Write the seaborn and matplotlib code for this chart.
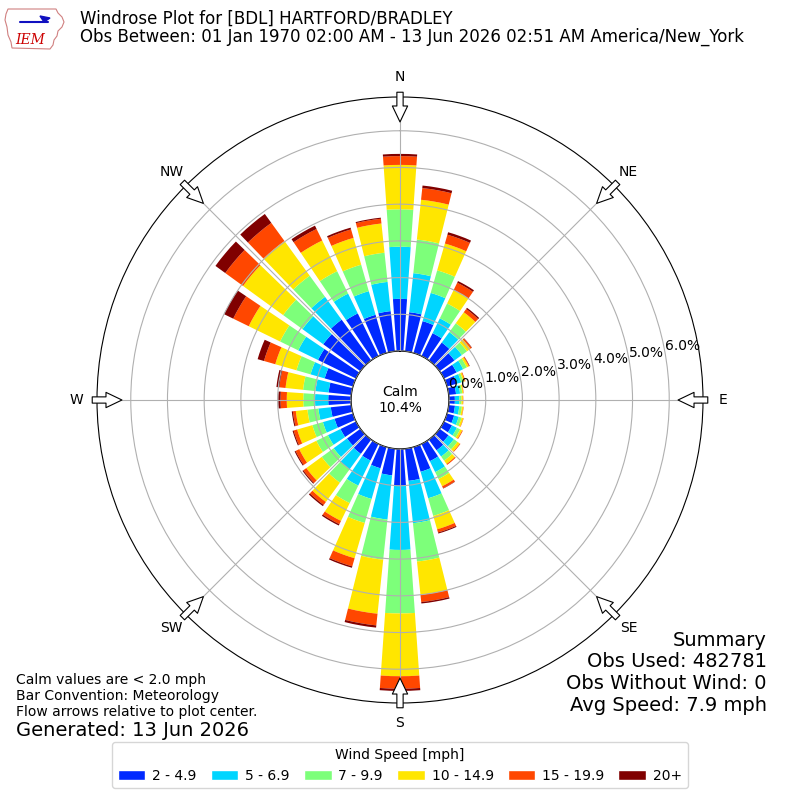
import numpy as np
import matplotlib
matplotlib.use("Agg")
import matplotlib.pyplot as plt
import seaborn as sns
from matplotlib.patches import Patch, Polygon
from matplotlib.lines import Line2D

# wind directions (deg, meteorological) and speed bins
directions = list(range(0, 360, 10))
speed_bins = ["2 - 4.9", "5 - 6.9", "7 - 9.9", "10 - 14.9", "15 - 19.9", "20+"]

# frequency [%] per direction for each speed bin
freq_2_5 = [1.42, 1.07, 0.90, 0.69, 0.60, 0.50, 0.38, 0.27, 0.20, 0.16, 0.17, 0.20,
            0.24, 0.30, 0.36, 0.52, 0.70, 0.88, 1.01, 0.73, 0.60, 0.50, 0.48, 0.45,
            0.47, 0.52, 0.56, 0.62, 0.62, 0.80, 1.15, 1.25, 1.37, 1.29, 1.08, 1.10]
freq_5_7 = [1.42, 1.07, 0.80, 0.45, 0.35, 0.25, 0.20, 0.13, 0.11, 0.12, 0.12, 0.13,
            0.15, 0.18, 0.21, 0.33, 0.75, 1.16, 1.74, 1.21, 0.87, 0.76, 0.52, 0.45,
            0.38, 0.33, 0.34, 0.36, 0.36, 0.40, 0.60, 0.70, 0.77, 0.60, 0.67, 0.80]
freq_7_10 = [1.02, 0.92, 0.64, 0.45, 0.30, 0.17, 0.11, 0.06, 0.06, 0.06, 0.07, 0.08,
             0.10, 0.12, 0.14, 0.21, 0.50, 1.05, 1.73, 1.10, 0.68, 0.53, 0.45, 0.40,
             0.35, 0.30, 0.30, 0.32, 0.34, 0.40, 0.55, 0.65, 0.71, 0.68, 0.75, 0.80]
freq_10_15 = [1.21, 1.09, 0.76, 0.41, 0.37, 0.12, 0.06, 0.04, 0.03, 0.04, 0.04, 0.05,
              0.06, 0.08, 0.11, 0.22, 0.38, 0.91, 1.71, 1.48, 1.00, 0.54, 0.65, 0.52,
              0.52, 0.43, 0.32, 0.45, 0.48, 0.60, 0.95, 1.35, 1.17, 0.93, 0.76, 0.80]
freq_15_20 = [0.24, 0.32, 0.25, 0.22, 0.11, 0.04, 0.02, 0.02, 0.01, 0.01, 0.01, 0.01,
              0.02, 0.02, 0.03, 0.06, 0.09, 0.20, 0.34, 0.32, 0.23, 0.10, 0.10, 0.10,
              0.11, 0.10, 0.08, 0.17, 0.17, 0.32, 0.47, 0.60, 0.61, 0.35, 0.24, 0.13]
freq_20p = [0.06, 0.07, 0.07, 0.05, 0.04, 0.01, 0.01, 0.00, 0.00, 0.00, 0.00, 0.00,
            0.00, 0.00, 0.00, 0.01, 0.03, 0.04, 0.06, 0.06, 0.04, 0.04, 0.04, 0.03,
            0.03, 0.03, 0.03, 0.06, 0.08, 0.18, 0.28, 0.33, 0.30, 0.10, 0.05, 0.03]

series = [freq_2_5, freq_5_7, freq_7_10, freq_10_15, freq_15_20, freq_20p]

compass = ["N", "NE", "E", "SE", "S", "SW", "W", "NW"]
rings = [0, 1, 2, 3, 4, 5, 6]
calm_pct = 10.4

sns.set_style("white", rc={"text.color": "black", "axes.edgecolor": "black",
                           "xtick.color": "black", "ytick.color": "black"})
plt.rcParams["font.family"] = ["DejaVu Sans"]

colors = sns.color_palette(matplotlib.colormaps["jet"](np.arange(1, 7) / 6))

fig = plt.figure(figsize=(8, 8), dpi=100)
ax = fig.add_axes([0.12125, 0.12125, 0.7575, 0.7575], projection="polar")
ax.set_theta_zero_location("N")
ax.set_theta_direction(-1)
ax.set_axisbelow(False)

theta = np.deg2rad(directions)
bottom = np.zeros(len(directions))
for vals, col, lab in zip(series, colors, speed_bins):
    ax.bar(theta, vals, width=np.deg2rad(8), bottom=bottom, color=col,
           label=lab, linewidth=0)
    bottom = bottom + np.array(vals)

ax.set_ylim(0, 6.92)
ax.set_rorigin(-1.335)
ax.set_rgrids(rings, labels=[f"{r:.1f}%" for r in rings], angle=80, fontsize=10)
ax.set_thetagrids(range(0, 360, 45), labels=compass, fontsize=10)
ax.tick_params(axis="x", pad=7.5, length=0)
ax.grid(True, color="#b0b0b0", lw=0.8)
ax.spines["polar"].set_color("black")
ax.spines["inner"].set_color("black")
ax.spines["inner"].set_linewidth(1.0)

ax.text(0.5, 0.5, f"Calm\n{calm_pct}%", transform=ax.transAxes,
        ha="center", va="center", fontsize=10)

# flow arrows pointing to the centre
for ang in range(0, 360, 45):
    t = np.deg2rad(ang)
    ax.annotate("", xy=(t, 6.24), xytext=(t, 7.05), annotation_clip=False,
                arrowprops=dict(arrowstyle="simple,head_length=1.15,head_width=1.1,tail_width=0.45",
                                mutation_scale=10, fc="white", ec="black", lw=0.8,
                                shrinkA=0, shrinkB=0, clip_on=False))

# titles
fig.text(0.1, 1 - 19 / 800, "Windrose Plot for [BDL] HARTFORD/BRADLEY",
         fontsize=12, va="center")
fig.text(0.1, 1 - 37 / 800,
         "Obs Between: 01 Jan 1970 02:00 AM - 13 Jun 2026 02:51 AM America/New_York",
         fontsize=12, va="center")

# IEM logo (rough)
iowa = [(8, 9), (56, 9), (58, 13), (62, 17), (64, 22), (62, 27), (58, 31), (57, 36),
        (54, 40), (53, 45), (50, 49), (12, 48), (11, 42), (8, 35), (7, 27), (5, 20),
        (6, 14)]
fig.patches.append(Polygon([(x / 800, 1 - y / 800) for x, y in iowa], closed=True,
                           fc="white", ec="#d08080", lw=0.8, transform=fig.transFigure))
fig.lines.append(Line2D([20 / 800, 48 / 800], [1 - 22 / 800, 1 - 22 / 800],
                        color="#1010c0", lw=1.5, transform=fig.transFigure))
fig.patches.append(Polygon([(40 / 800, 1 - 16 / 800), (50 / 800, 1 - 18 / 800),
                            (44 / 800, 1 - 22 / 800)], closed=True, fc="#1010c0",
                           ec="#1010c0", transform=fig.transFigure))
fig.text(30 / 800, 1 - 40 / 800, "IEM", color="#cc0000", fontsize=10,
         family="DejaVu Serif", style="italic", ha="center", va="center")

# notes
fig.text(16 / 800, 1 - 680 / 800, "Calm values are < 2.0 mph", fontsize=10, va="center")
fig.text(16 / 800, 1 - 696 / 800, "Bar Convention: Meteorology", fontsize=10, va="center")
fig.text(16 / 800, 1 - 712 / 800, "Flow arrows relative to plot center.", fontsize=10,
         va="center")
fig.text(16 / 800, 1 - 730 / 800, "Generated: 13 Jun 2026", fontsize=14, va="center")

summary = ["Summary", "Obs Used: 482781", "Obs Without Wind: 0", "Avg Speed: 7.9 mph"]
for i, s in enumerate(summary):
    fig.text(767 / 800, 1 - (640 + 21.7 * i) / 800, s, fontsize=14, ha="right",
             va="center")

handles = [Patch(facecolor=c, label=l) for c, l in zip(colors, speed_bins)]
fig.legend(handles=handles, loc="lower center", bbox_to_anchor=(0.5, 0.006), ncol=6,
           title="Wind Speed [mph]", fontsize=10, title_fontsize=10, frameon=True,
           handlelength=2.0, handleheight=0.7, handletextpad=0.5, columnspacing=1.0)

fig.savefig("out.png", dpi=100)
